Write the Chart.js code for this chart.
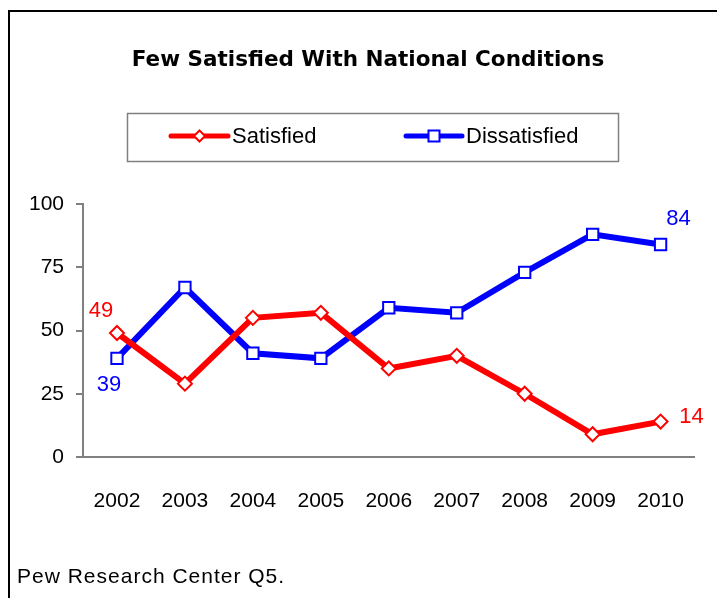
<!DOCTYPE html>
<html>
<head>
<meta charset="utf-8">
<script src="https://cdn.jsdelivr.net/npm/chart.js@4"></script>
<style>
  body { margin: 0; background: #fff; overflow: hidden; }
  #frame { position: absolute; left: 8px; top: 10px; width: 740px; height: 620px; border: 2px solid #000; }
  #wrap { position: absolute; left: 0; top: 0; width: 717px; height: 598px; }
</style>
</head>
<body>
<div id="frame"></div>
<div id="wrap"><canvas id="chart" width="717" height="598"></canvas></div>
<script>
'use strict'
let years = ['2002', '2003', '2004', '2005', '2006', '2007', '2008', '2009', '2010'],
    satisfied = [49, 29, 55, 57, 35, 40, 25, 9, 14],
    dissatisfied = [39, 67, 41, 39, 59, 57, 73, 88, 84],
    yTicks = [0, 25, 50, 75, 100],
    titleText = 'Few Satisfied With National Conditions',
    noteText = 'Pew Research Center Q5.'

const FONT = '"Liberation Sans", Arial, sans-serif'

// labels shown only at the first and last point, offsets in px
let endLabels = [
    {ds: 0, i: 0, dx: -16, dy: -22},
    {ds: 1, i: 0, dx: -8, dy: 27},
    {ds: 1, i: 8, dx: 18, dy: -26},
    {ds: 0, i: 8, dx: 31, dy: -5}
]

let extras = {
    id: 'extras',
    afterDraw(chart) {
        let ctx = chart.ctx
        ctx.save()
        // title
        ctx.fillStyle = '#000'
        ctx.font = 'bold 21.5px "DejaVu Sans", sans-serif'
        ctx.textAlign = 'center'
        ctx.textBaseline = 'middle'
        ctx.fillText(titleText, 368, 60)

        // legend box
        ctx.strokeStyle = '#808080'
        ctx.lineWidth = 1.5
        ctx.strokeRect(127.5, 113.5, 491, 48)
        let items = [{x0: 171, x1: 228, tx: 232}, {x0: 406, x1: 462, tx: 466}]
        items.forEach((it, k) => {
            let ds = chart.data.datasets[k]
            let cx = (it.x0 + it.x1) / 2
            ctx.strokeStyle = ds.borderColor
            ctx.lineWidth = 5
            ctx.lineCap = 'round'
            ctx.beginPath()
            ctx.moveTo(it.x0, 136)
            ctx.lineTo(it.x1, 136)
            ctx.stroke()
            ctx.fillStyle = '#fff'
            ctx.lineWidth = 2
            ctx.beginPath()
            if (ds.pointStyle === 'rectRot') {
                let r = 5.5
                ctx.moveTo(cx, 136 - r); ctx.lineTo(cx + r, 136); ctx.lineTo(cx, 136 + r); ctx.lineTo(cx - r, 136); ctx.closePath()
            } else {
                let s = 5.5
                ctx.rect(cx - s, 136 - s, 2 * s, 2 * s)
            }
            ctx.fill()
            ctx.stroke()
            ctx.fillStyle = '#000'
            ctx.font = '22px ' + FONT
            ctx.textAlign = 'left'
            ctx.fillText(ds.label, it.tx, 137)
        })

        // end labels
        ctx.font = '22px ' + FONT
        ctx.textAlign = 'center'
        endLabels.forEach(l => {
            let pt = chart.getDatasetMeta(l.ds).data[l.i]
            ctx.fillStyle = chart.data.datasets[l.ds].borderColor
            ctx.fillText(String(chart.data.datasets[l.ds].data[l.i]), pt.x + l.dx, pt.y + l.dy)
        })

        // source note
        ctx.fillStyle = '#000'
        ctx.font = '21px ' + FONT
        ctx.letterSpacing = '1px'
        ctx.textAlign = 'left'
        ctx.fillText(noteText, 17, 577)
        ctx.restore()
    }
}

let data = {
    labels: years,
    datasets: [{
        label: 'Satisfied',
        data: satisfied,
        borderColor: '#ff0000',
        backgroundColor: '#ffffff',
        borderWidth: 6,
        pointStyle: 'rectRot',
        pointRadius: 7,
        pointBorderWidth: 2,
        tension: 0
    }, {
        label: 'Dissatisfied',
        data: dissatisfied,
        borderColor: '#0000ff',
        backgroundColor: '#ffffff',
        borderWidth: 6,
        pointStyle: 'rect',
        pointRadius: 8,
        pointBorderWidth: 2,
        tension: 0
    }]
}

let config = {
    type: 'line',
    data: data,
    options: {
        responsive: false,
        animation: false,
        layout: {padding: {left: 0, right: 19, top: 204, bottom: 81}},
        plugins: {legend: {display: false}, title: {display: false}, tooltip: {enabled: false}},
        scales: {
            x: {
                offset: true,
                grid: {display: false, drawTicks: false, tickLength: 0},
                border: {display: true, color: '#808080', width: 2},
                ticks: {color: '#000', font: {family: FONT, size: 21}, padding: 32, maxRotation: 0},
                afterFit(scale) { scale.height = 60 }
            },
            y: {
                min: 0,
                max: 100,
                afterBuildTicks(scale) { scale.ticks = yTicks.map(v => ({value: v})) },
                grid: {drawOnChartArea: false, drawTicks: true, tickLength: 7, color: '#808080', lineWidth: 2},
                border: {display: true, color: '#808080', width: 2},
                ticks: {color: '#000', font: {family: FONT, size: 21}, padding: 12},
                afterFit(scale) { scale.width = 83 }
            }
        }
    },
    plugins: [extras]
}

let myChart = new Chart(document.getElementById('chart'), config)
</script>
</body>
</html>
